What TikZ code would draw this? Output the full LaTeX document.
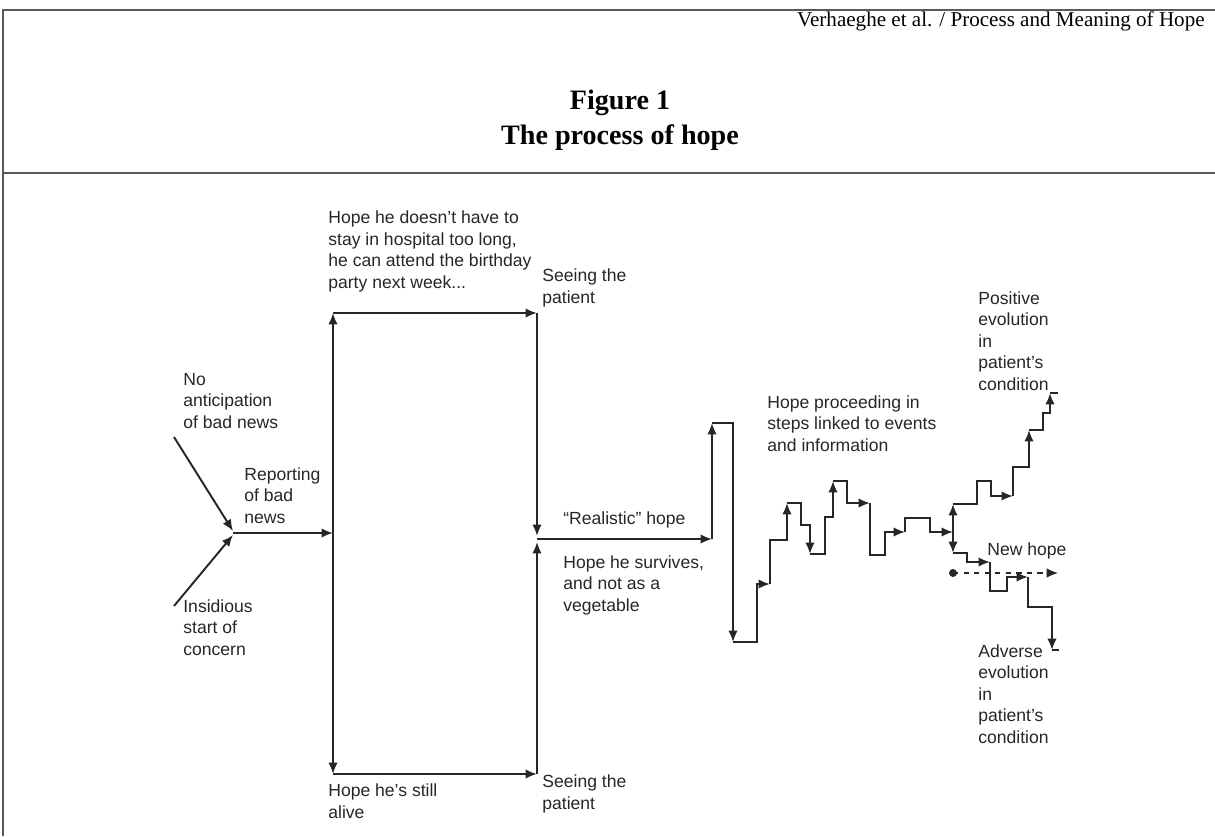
\documentclass[tikz,border=0pt]{standalone}
\usepackage{fontspec}
\setmainfont{Liberation Serif}
\setsansfont{Liberation Sans}
\usetikzlibrary{arrows.meta,positioning,calc}

\tikzset{
  lbl/.style={font=\sffamily\fontsize{10}{12.2}\selectfont, align=left, anchor=base west, inner sep=0pt, text=black!85},
  flow/.style={line width=1.1pt, draw=black!85},
  rule/.style={line width=1.3pt, draw=black!65},
}

\begin{document}
\begin{tikzpicture}[x=0.02cm, y=-0.02cm, >={Latex[length=6.5pt,width=5.4pt]}]
    \useasboundingbox (0,0) rectangle (1215,836);
    % frame and heading
    \draw[rule] (3,836) -- (3,10) -- (1215,10);
    \draw[rule] (3,173) -- (1215,173);
    \node[anchor=base east, inner sep=0pt, font=\fontsize{12}{14}\selectfont] (running) at (1205,26) {Verhaeghe et al. / Process and Meaning of Hope};
    \node[font=\bfseries\fontsize{16}{19}\selectfont] (fignum) at (620,103) {Figure 1};
    \node[font=\bfseries\fontsize{16}{19}\selectfont] (figtitle) at (620,138) {The process of hope};

    % start: bad news (base = last line)
    \node[lbl] (noanti) at (183,428) {No\\anticipation\\of bad news};
    \node[lbl] (report) at (244,523) {Reporting\\of bad\\news};
    \node[lbl] (insid) at (183,655) {Insidious\\start of\\concern};
    \coordinate (fromabove) at (174,437);
    \coordinate (frombelow) at (174,606);
    \coordinate (join) at (233,533);
    \coordinate (split) at (333,533);
    \draw[flow,->] (fromabove) -- ($(join)+(0,-2)$);
    \draw[flow,->] (frombelow) -- ($(join)+(0,2)$);
    \draw[flow,->] (join) -- (split);

    % the two first hopes
    \coordinate (boxtl) at (333,313);
    \coordinate (boxbl) at (333,774);
    \coordinate (boxtr) at (537,313);
    \coordinate (boxbr) at (537,774);
    \coordinate (meet) at (537,539);
    \draw[flow,->] (split) -- (boxtl);
    \draw[flow,->] (split) -- (boxbl);
    \draw[flow,->] (boxtl) -- (boxtr);
    \draw[flow,->] (boxbl) -- (boxbr);
    \draw[flow,->] (boxtr) -- ($(meet)+(0,-3)$);
    \draw[flow,->] (boxbr) -- ($(meet)+(0,3)$);
    \node[lbl] (hopelong) at (328,288) {Hope he doesn't have to\\stay in hospital too long,\\he can attend the birthday\\party next week...};
    \node[lbl] (seetop) at (542,303) {Seeing the\\patient};
    \node[lbl] (alive) at (328,818) {Hope he's still\\alive};
    \node[lbl] (seebot) at (542,809) {Seeing the\\patient};

    % realistic hope
    \coordinate (realend) at (712,539);
    \draw[flow,->] (meet) -- (realend);
    \node[lbl] (realistic) at (563,524) {``Realistic'' hope};
    \node[lbl] (survive) at (563,611) {Hope he survives,\\and not as a\\vegetable};

    % steps
    \draw[flow,->] (realend) -- (712,423);
    \draw[flow,->] (712,423) -- (733,423) -- (733,642);
    \draw[flow,->] (733,642) -- (757,642) -- (757,584) -- (770,584);
    \draw[flow,->] (770,584) -- (770,540) -- (787,540) -- (787,503);
    \draw[flow,->] (787,503) -- (801,503) -- (801,525) -- (810,525) -- (810,554);
    \draw[flow,->] (810,554) -- (825,554) -- (825,517) -- (833,517) -- (833,481);
    \draw[flow,->] (833,481) -- (847,481) -- (847,503) -- (870,503);
    \draw[flow,->] (870,503) -- (870,555) -- (885,555) -- (885,532) -- (905,532);
    \draw[flow,->] (905,532) -- (905,518) -- (930,518) -- (930,532) -- (953,532);
    \node[lbl] (steps) at (767,451) {Hope proceeding in\\steps linked to events\\and information};

    % fork
    \coordinate (forkup) at (953,504);
    \coordinate (forkdown) at (953,553);
    \draw[flow,<->] (forkup) -- (forkdown);
    \draw[flow,->] (forkup) -- (977,504) -- (977,481) -- (991,481) -- (991,496) -- (1013,496);
    \draw[flow,->] (1013,496) -- (1013,467) -- (1029,467) -- (1029,430);
    \draw[flow,->] (1029,430) -- (1043,430) -- (1043,413) -- (1050,413) -- (1050,393);
    \draw[flow] (1050,393) -- (1058,393);
    \draw[flow,->] (forkdown) -- (967,553) -- (967,562) -- (990,562);
    \draw[flow,->] (990,562) -- (990,591) -- (1007,591) -- (1007,577) -- (1028,577);
    \draw[flow,->] (1028,577) -- (1028,607) -- (1052,607) -- (1052,650);
    \draw[flow] (1052,650) -- (1059,650);
    \fill[black!85] (953,573) circle (4);
    \draw[flow,line width=0.6pt,dashed,->] (953,573) -- (1058,573);
    \node[lbl] (positive) at (978,390) {Positive\\evolution\\in\\patient's\\condition};
    \node[lbl] (newhope) at (987,555) {New hope};
    \node[lbl] (adverse) at (978,743) {Adverse\\evolution\\in\\patient's\\condition};
\end{tikzpicture}
\end{document}
